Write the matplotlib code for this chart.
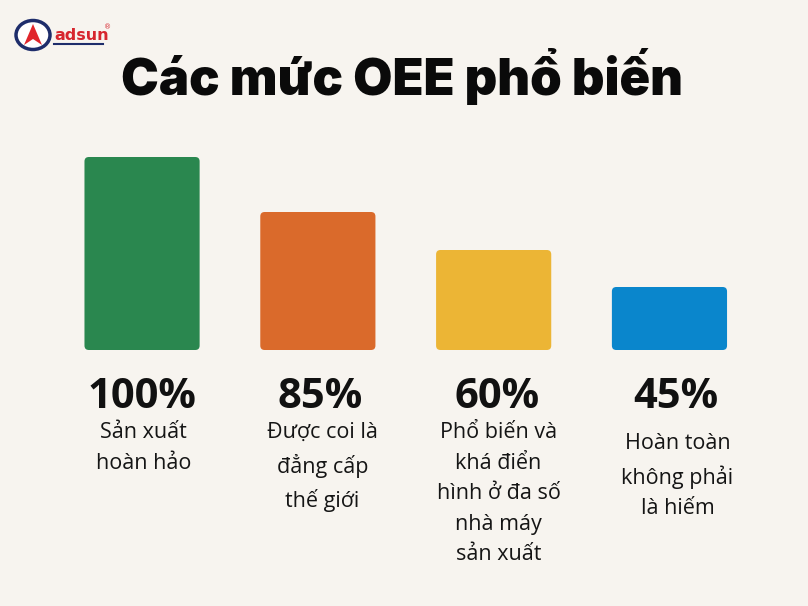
import matplotlib.pyplot as plt
from matplotlib.patches import FancyBboxPatch, Ellipse, Polygon

# data
percent_labels = ["100%", "85%", "60%", "45%"]
descriptions = [
    "Sản xuất\nhoàn hảo",
    "Được coi là\nđẳng cấp\nthế giới",
    "Phổ biến và\nkhá điển\nhình ở đa số\nnhà máy\nsản xuất",
    "Hoàn toàn\nkhông phải\nlà hiếm",
]
bar_heights = [193, 138, 100, 63]   # visual bar heights (px-like units)
colors = ["#2A874F", "#DA6A2B", "#ECB535", "#0A86CC"]

bg = "#F7F4EF"
fig = plt.figure(figsize=(8.08, 6.06), dpi=100, facecolor=bg)
ax = fig.add_axes([0, 0, 1, 1], facecolor=bg)
ax.set_xlim(-0.808, 3.788)
ax.set_ylim(-256, 350)
ax.axis("off")

x = list(range(len(bar_heights)))
bars = ax.bar(x, bar_heights, width=0.655, color=colors)
# swap plain bars for rounded ones
for b, c in zip(bars, colors):
    b.set_visible(False)
    ax.add_patch(FancyBboxPatch((b.get_x(), b.get_y()), b.get_width(), b.get_height(),
                                boxstyle="round,pad=0,rounding_size=0.025",
                                mutation_aspect=176, fc=c, ec="none"))

# text columns sit slightly right of the bars further along
shift = [0.0, 0.015, 0.018, 0.035]
for i, (p, d) in enumerate(zip(percent_labels, descriptions)):
    ax.text(i + shift[i], -58, p, ha="center", va="baseline", fontsize=30,
            fontweight="bold", family="Open Sans", color="#111111")
    top = -83 if i == 3 else -72
    ax.text(i + shift[i] + 0.01, top, d, ha="center", va="top", ma="center",
            fontsize=15.5, family="Open Sans", color="#151515", linespacing=1.6)

# title
fig.text(0.4975, 1 - 95 / 606, "Các mức OEE phổ biến", ha="center", va="baseline",
         fontsize=36.5, fontweight=900, family="Inter", color="#0a0a0a")

# logo
lax = fig.add_axes([0, 0, 1, 1], facecolor="none")
lax.set_xlim(0, 808)
lax.set_ylim(606, 0)
lax.axis("off")
lax.add_patch(Ellipse((33, 35), 34, 29, fc="white", ec="#1E2D6B", lw=2.5))
lax.add_patch(Polygon([[33, 24], [24, 45], [33, 39], [42, 45]], closed=True,
                      fc="#E0252B", ec="none"))
lax.text(54, 36, "adsun", ha="left", va="center", fontsize=11.5,
         fontweight="bold", color="#D7262E", family="DejaVu Sans")
lax.plot([54, 103], [44, 44], color="#1E2D6B", lw=1.5)
lax.text(104, 27, "®", fontsize=5, color="#D7262E", ha="left", va="center")

fig.savefig("out.png", dpi=100, facecolor=bg)
